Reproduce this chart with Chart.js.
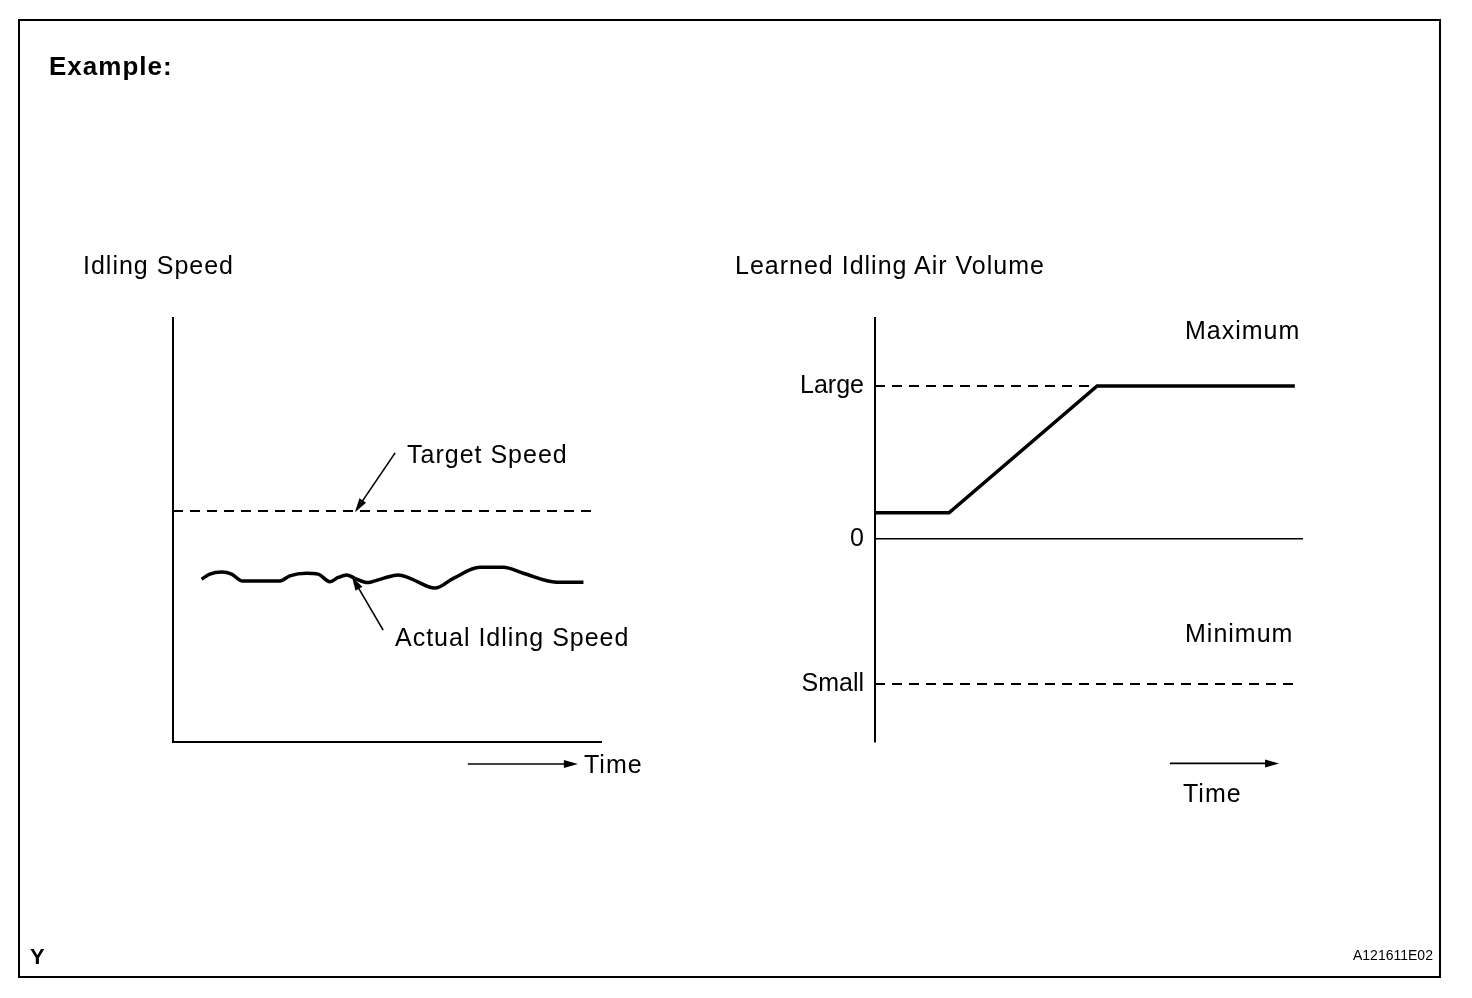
<!DOCTYPE html>
<html>
<head>
<meta charset="utf-8">
<script src="https://cdn.jsdelivr.net/npm/chart.js@4.4.1/dist/chart.umd.min.js"></script>
<style>
	body { margin: 0; background: #fff; }
	#page { position: relative; width: 1472px; height: 998px; overflow: hidden; font-family: "Liberation Sans", Arial, sans-serif; color: #000; }
	#frame { position: absolute; left: 18px; top: 19px; width: 1423px; height: 959px; border: 2px solid #000; box-sizing: border-box; }
	canvas { position: absolute; left: 0; top: 0; }
	.lbl { position: absolute; white-space: nowrap; line-height: 30px; height: 30px; font-size: 25px; letter-spacing: 1px; }
	.bold { font-weight: bold; }
</style>
</head>
<body>
<div id="page">
	<div id="frame"></div>
	<canvas id="speedChart" width="1472" height="998"></canvas>
	<canvas id="airChart" width="1472" height="998"></canvas>
	<div class="lbl bold" style="left:49px; top:51px; font-size:26px;">Example:</div>
	<div class="lbl" style="left:83px; top:250px;">Idling Speed</div>
	<div class="lbl" style="left:407px; top:439px;">Target Speed</div>
	<div class="lbl" style="left:395px; top:622px;">Actual Idling Speed</div>
	<div class="lbl" style="left:584px; top:749px;">Time</div>
	<div class="lbl" style="left:735px; top:250px;">Learned Idling Air Volume</div>
	<div class="lbl" style="left:1185px; top:315px;">Maximum</div>
	<div class="lbl" style="left:1185px; top:618px;">Minimum</div>
	<div class="lbl" style="left:1183px; top:778px;">Time</div>
	<div class="lbl bold" style="left:30px; top:942px; font-size:22px; letter-spacing:0;">Y</div>
	<div class="lbl" style="left:1353px; top:940px; font-size:14px; letter-spacing:0;">A121611E02</div>
</div>
<script>
// Idling speed chart (time 0-100, speed 0-100 in relative units)
const actualTime = [6.7, 8.6, 11.4, 13.7, 16.1, 25.0, 27.3, 31.2, 33.9, 36.7, 38.6, 40.6, 42.5, 45.3, 49.1, 52.6, 55.4, 61.2, 65.5, 71.7, 77.2, 81.8, 89.6, 95.9];
const actualSpeed = [38.4, 39.6, 40.1, 39.6, 38.0, 38.0, 39.2, 39.8, 39.6, 37.8, 38.8, 39.4, 38.6, 37.6, 38.6, 39.4, 38.6, 36.3, 38.6, 41.2, 41.2, 39.8, 37.7, 37.7];
const targetTime = [0, 98.6];
const targetSpeed = [54.5, 54.5];

// Learned idling air volume chart
const learnedTime = [0, 17.3, 51.9, 98.1];
const learnedVolume = [17, 17, 100, 100];
const limitTime = [0, 98.1];
const largeVolume = 100;
const smallVolume = -95;
const volumeTicks = [smallVolume, 0, largeVolume];
const volumeTickLabels = ['Small', '0', 'Large'];

const fontFamily = '"Liberation Sans", Arial, sans-serif';

function points( xs, ys ) {
	return xs.map( ( x, i ) => ( { x: x, y: ys[ i ] } ) );
}

// Draws the pointer arrows given in data units.
const arrowPlugin = {
	id: 'arrows',
	afterDraw( chart, args, opts ) {
		const ctx = chart.ctx,
			xs = chart.scales.x,
			ys = chart.scales.y;
		ctx.save();
		ctx.strokeStyle = '#000';
		ctx.fillStyle = '#000';
		( opts.items || [] ).forEach( function ( a ) {
			const x1 = xs.getPixelForValue( a.from[ 0 ] ),
				y1 = ys.getPixelForValue( a.from[ 1 ] ),
				x2 = xs.getPixelForValue( a.to[ 0 ] ),
				y2 = ys.getPixelForValue( a.to[ 1 ] ),
				ang = Math.atan2( y2 - y1, x2 - x1 ),
				len = 14,
				half = 4;
			ctx.lineWidth = 1.6;
			ctx.beginPath();
			ctx.moveTo( x1, y1 );
			ctx.lineTo( x2 - Math.cos( ang ) * len * 0.8, y2 - Math.sin( ang ) * len * 0.8 );
			ctx.stroke();
			ctx.beginPath();
			ctx.moveTo( x2, y2 );
			ctx.lineTo( x2 - Math.cos( ang ) * len + Math.sin( ang ) * half, y2 - Math.sin( ang ) * len - Math.cos( ang ) * half );
			ctx.lineTo( x2 - Math.cos( ang ) * len - Math.sin( ang ) * half, y2 - Math.sin( ang ) * len + Math.cos( ang ) * half );
			ctx.closePath();
			ctx.fill();
		} );
		ctx.restore();
	}
};

Chart.defaults.animation = false;

new Chart( 'speedChart', {
	type: 'line',
	data: {
		datasets: [ {
			data: points( targetTime, targetSpeed ),
			borderColor: '#000',
			borderWidth: 2,
			borderDash: [ 10, 7 ],
			pointRadius: 0
		}, {
			data: points( actualTime, actualSpeed ),
			borderColor: '#000',
			borderWidth: 3.5,
			cubicInterpolationMode: 'monotone',
			pointRadius: 0
		} ]
	},
	options: {
		responsive: false,
		events: [],
		layout: { padding: { left: 173, top: 318, right: 1472 - 601, bottom: 998 - 742 } },
		plugins: {
			legend: { display: false },
			tooltip: { enabled: false },
			arrows: {
				items: [
					{ from: [ 51.9, 68.2 ], to: [ 42.5, 54.2 ] },
					{ from: [ 49.1, 26.4 ], to: [ 41.8, 39.0 ] },
					{ from: [ 68.9, -5.2 ], to: [ 94.6, -5.2 ] }
				]
			}
		},
		scales: {
			x: {
				type: 'linear', min: 0, max: 100,
				ticks: { display: false },
				grid: { display: false, drawTicks: false },
				border: { display: true, color: '#000', width: 2 },
				afterFit: function ( s ) { s.height = 0; }
			},
			y: {
				min: 0, max: 100,
				ticks: { display: false },
				grid: { display: false, drawTicks: false },
				border: { display: true, color: '#000', width: 2 },
				afterFit: function ( s ) { s.width = 0; }
			}
		}
	},
	plugins: [ arrowPlugin ]
} );

// The y axis keeps a fixed 100px band to the left of the plot for its labels.
new Chart( 'airChart', {
	type: 'line',
	data: {
		datasets: [ {
			data: points( limitTime, [ largeVolume, largeVolume ] ),
			borderColor: '#000',
			borderWidth: 2,
			borderDash: [ 10, 7 ],
			pointRadius: 0
		}, {
			data: points( limitTime, [ smallVolume, smallVolume ] ),
			borderColor: '#000',
			borderWidth: 2,
			borderDash: [ 10, 7 ],
			pointRadius: 0
		}, {
			data: points( learnedTime, learnedVolume ),
			borderColor: '#000',
			borderWidth: 3.5,
			pointRadius: 0
		} ]
	},
	options: {
		responsive: false,
		events: [],
		layout: { padding: { left: 875 - 100, top: 318, right: 1472 - 1303, bottom: 998 - 742 } },
		plugins: {
			legend: { display: false },
			tooltip: { enabled: false },
			arrows: {
				items: [
					{ from: [ 68.9, -147 ], to: [ 94.4, -147 ] }
				]
			}
		},
		scales: {
			x: {
				type: 'linear', min: 0, max: 100,
				display: false
			},
			y: {
				min: -133, max: 144.5,
				afterBuildTicks: function ( s ) {
					s.ticks = volumeTicks.map( v => ( { value: v } ) );
				},
				ticks: {
					color: '#000',
					padding: 11,
					font: { size: 25, family: fontFamily },
					callback: function ( v ) {
						return volumeTickLabels[ volumeTicks.indexOf( v ) ];
					}
				},
				grid: {
					drawTicks: false,
					lineWidth: 1.5,
					color: function ( c ) {
						return c.tick && c.tick.value === 0 ? '#000' : 'rgba(0,0,0,0)';
					}
				},
				border: { display: true, color: '#000', width: 2 },
				afterFit: function ( s ) { s.width = 100; }
			}
		}
	},
	plugins: [ arrowPlugin ]
} );
</script>
</body>
</html>
